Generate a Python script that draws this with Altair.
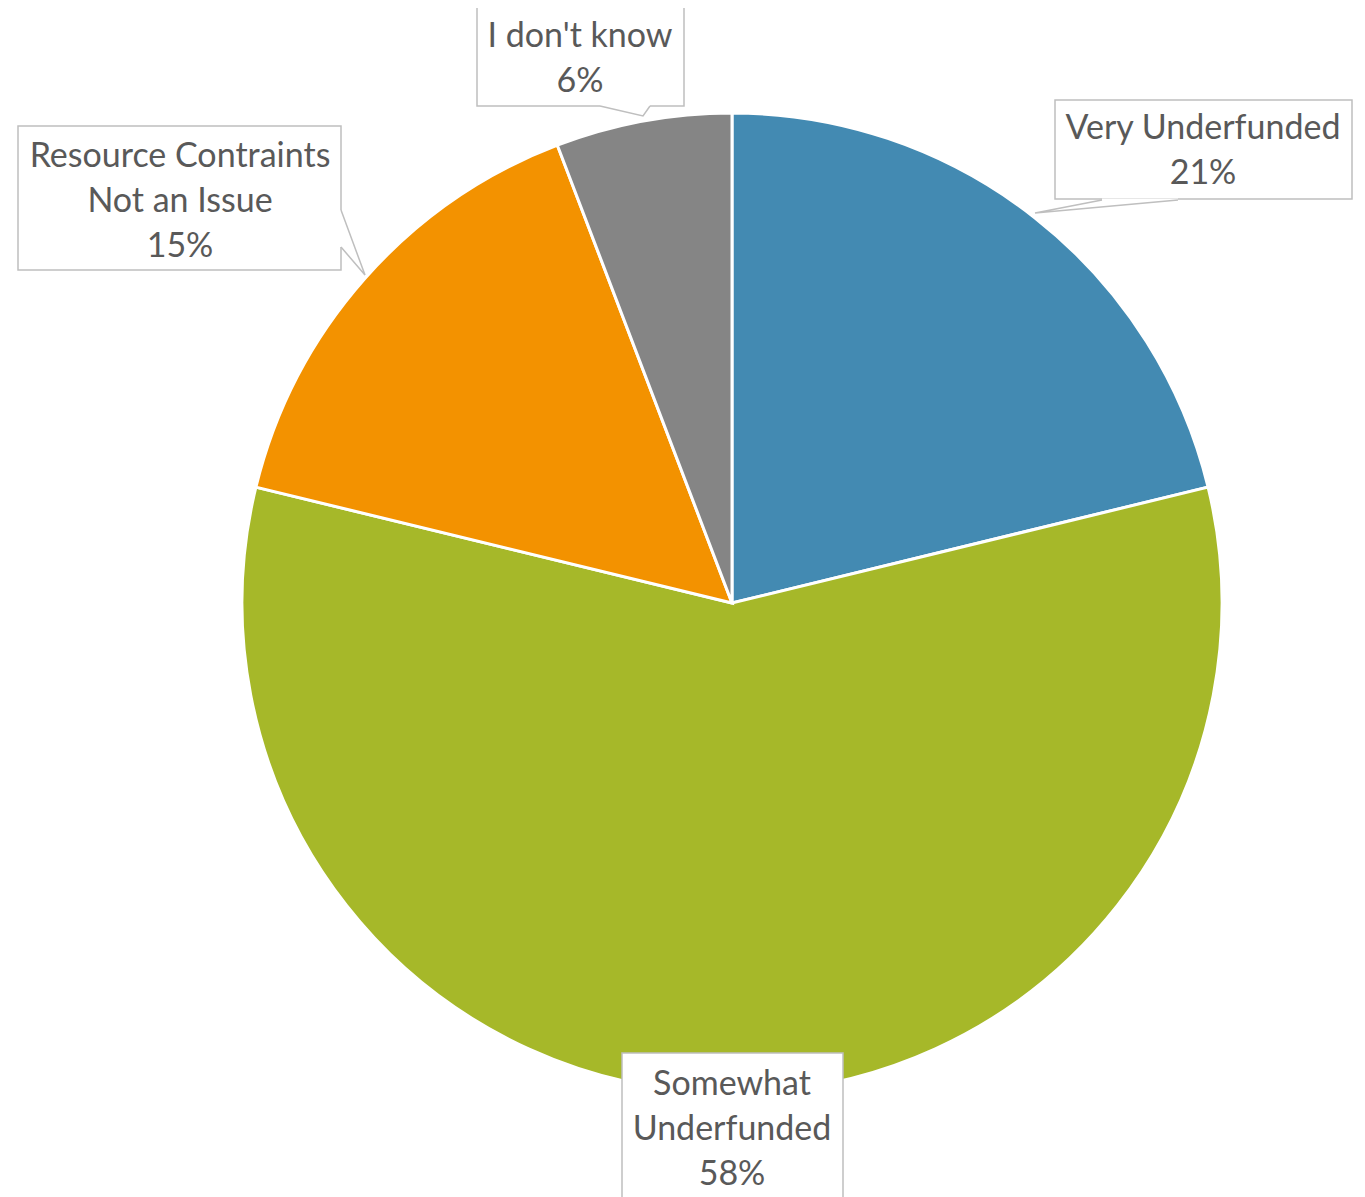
import altair as alt
import pandas as pd

# Slice data (percent)
categories = ["Very Underfunded", "Somewhat Underfunded", "Resource Contraints Not an Issue", "I don't know"]
values = [21.2, 57.6, 15.4, 5.8]
colors = ["#438ab2", "#a6b829", "#f39200", "#858585"]
label_texts = ["Very Underfunded\n21%", "Somewhat\nUnderfunded\n58%", "Resource Contraints\nNot an Issue\n15%", "I don't know\n6%"]

# pie centre (page px)
pie_cx = [732]
pie_cy = [603]

# label boxes (page px)
box_x1 = [1055, 622, 18, 477]
box_x2 = [1352, 843, 341, 684]
box_y1 = [100, 1053, 126, 7]
box_y2 = [199, 1215, 270, 106]
text_cx = [1203, 732, 180, 580]
text_cy = [129, 1085, 157, 37]   # first-line centres

# callout wedges: base point A, tip, base point B
wedge_ids = ["VU", "VU", "VU", "RC", "RC", "RC", "ID", "ID", "ID"]
wedge_x = [1102, 1035, 1178, 341, 365, 341, 600, 643, 650]
wedge_y = [200, 213, 200, 210, 275, 247, 106, 116, 106]
wedge_ord = [0, 1, 2, 0, 1, 2, 0, 1, 2]

W, H = 1349, 1210
xs = alt.Scale(domain=[8, 8 + W], range=[0, W])
ys = alt.Scale(domain=[8, 8 + H], range=[0, H])

pie_df = pd.DataFrame({"cat": categories, "val": values, "cx": pie_cx * 4, "cy": pie_cy * 4,
                       "o": list(range(len(categories)))})
box_df = pd.DataFrame({"cat": categories, "x1": box_x1, "x2": box_x2, "y1": box_y1, "y2": box_y2,
                       "tx": text_cx, "ty": text_cy, "label": label_texts})
wedge_df = pd.DataFrame({"id": wedge_ids, "x": wedge_x, "y": wedge_y, "o": wedge_ord})
gap_df = wedge_df[wedge_df.o != 1].pivot(index="id", columns="o", values=["x", "y"])
gap_df.columns = ["xa", "xb", "ya", "yb"]
gap_df = gap_df.reset_index()

pie = alt.Chart(pie_df).mark_arc(outerRadius=490, stroke="white", strokeWidth=3).encode(
    theta=alt.Theta("val:Q", stack=True),
    order=alt.Order("o:Q"),
    color=alt.Color("cat:N", scale=alt.Scale(domain=categories, range=colors), legend=None),
    x=alt.X("cx:Q", scale=xs, axis=None),
    y=alt.Y("cy:Q", scale=ys, axis=None),
)

boxes = alt.Chart(box_df).mark_rect(fill="white", stroke="#bfbfbf", strokeWidth=1.5).encode(
    x=alt.X("x1:Q", scale=xs, axis=None), x2="x2:Q",
    y=alt.Y("y1:Q", scale=ys, axis=None), y2="y2:Q",
)

gaps = alt.Chart(gap_df).mark_rule(stroke="white", strokeWidth=3).encode(
    x=alt.X("xa:Q", scale=xs, axis=None), x2="xb:Q",
    y=alt.Y("ya:Q", scale=ys, axis=None), y2="yb:Q",
)

wedges = alt.Chart(wedge_df).mark_line(stroke="#bfbfbf", strokeWidth=1.5).encode(
    x=alt.X("x:Q", scale=xs, axis=None),
    y=alt.Y("y:Q", scale=ys, axis=None),
    detail="id:N",
    order="o:Q",
)

texts = alt.Chart(box_df).mark_text(font="Lato", fontSize=34, lineHeight=45, lineBreak="\n",
                                    color="#595959", align="center", baseline="middle").encode(
    x=alt.X("tx:Q", scale=xs, axis=None),
    y=alt.Y("ty:Q", scale=ys, axis=None),
    text="label:N",
)

chart = alt.layer(pie, boxes, gaps, wedges, texts).properties(
    width=W, height=H, padding=0, autosize=alt.AutoSizeParams(type="none")
).configure_view(stroke=None)

chart.save("out.html", embed_options={"renderer": "svg", "actions": False})
